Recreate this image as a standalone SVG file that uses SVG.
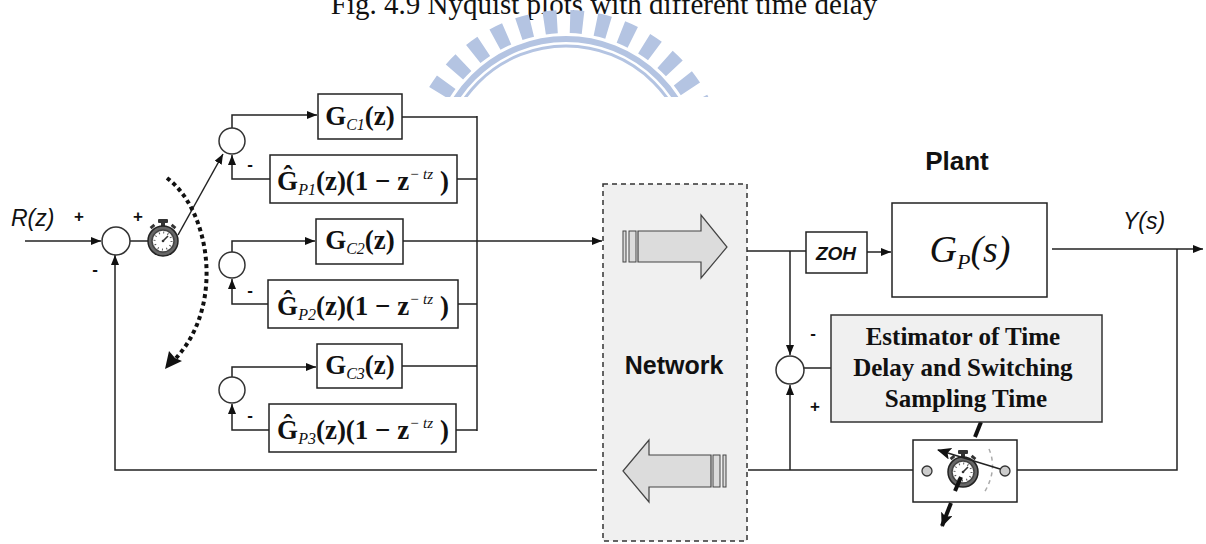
<svg xmlns="http://www.w3.org/2000/svg" width="1206" height="544" viewBox="0 0 1206 544">
  <style>
    .ln{stroke:#222;stroke-width:1.5;fill:none}
    .box{fill:#fff;stroke:#222;stroke-width:1.5}
    .sum{fill:#fff;stroke:#333;stroke-width:1.5}
    .sign{font-family:"Liberation Sans",Arial,sans-serif;font-weight:bold;font-size:17px;fill:#111}
    .sans{font-family:"Liberation Sans",Arial,sans-serif;fill:#111}
    .serif{font-family:"Liberation Serif","Times New Roman",serif;fill:#111}
    .blk{fill:#dcdcdc;stroke:#444;stroke-width:1.2}
    .bar{fill:#dcdcdc;stroke:#444;stroke-width:1}
    .b{font-weight:bold}
    .i{font-style:italic}
  </style>
  <defs>
    <marker id="ah" viewBox="0 0 10 8" refX="10" refY="4" markerWidth="10" markerHeight="8" markerUnits="userSpaceOnUse" orient="auto">
      <path d="M0,0 L10,4 L0,8 z" fill="#111"/>
    </marker>
    <marker id="ahb" viewBox="0 0 14 12" refX="13" refY="6" markerWidth="14" markerHeight="12" markerUnits="userSpaceOnUse" orient="auto">
      <path d="M0,0 L14,6 L0,12 L3,6 z" fill="#111"/>
    </marker>
    <clipPath id="wmclip"><rect x="0" y="0" width="1206" height="97"/></clipPath>
    <!-- stopwatch glyph, centred on the origin -->
    <g id="watch">
      <rect x="-5" y="-22" width="10" height="4" rx="1" fill="#333"/>
      <rect x="-2" y="-19" width="4" height="5" fill="#333"/>
      <rect x="-13" y="-16" width="5" height="3" fill="#333" transform="rotate(-40 -10.5 -14.5)"/>
      <rect x="8" y="-16" width="5" height="3" fill="#333" transform="rotate(40 10.5 -14.5)"/>
      <circle r="15" fill="#666" stroke="#222" stroke-width="1.5"/>
      <circle r="11" fill="#fff" stroke="#444" stroke-width="1.5"/>
      <circle r="8.5" fill="none" stroke="#555" stroke-width="2" stroke-dasharray="1 3.45"/>
      <line x1="0" y1="0" x2="5" y2="-5" stroke="#333" stroke-width="1.6"/>
      <circle r="1.3" fill="#333"/>
    </g>
  </defs>

  <rect width="1206" height="544" fill="#fff"/>

  <!-- caption above the figure -->
  <text x="604" y="14" text-anchor="middle" class="serif" font-size="29">Fig. 4.9 Nyquist plots with different time delay</text>

  <!-- emblem behind the figure -->
  <g id="emblem" clip-path="url(#wmclip)" fill="none" stroke="#b4c4e2">
    <circle cx="566" cy="170" r="148.5" stroke-width="23" stroke-dasharray="13 13.06"/>
    <circle cx="566" cy="170" r="131" stroke-width="6"/>
    <circle cx="566" cy="170" r="124" stroke-width="3"/>
  </g>

  <!-- connectors -->
  <g id="connectors">
    <path class="ln" d="M25,241 H101" marker-end="url(#ah)"/>
    <path class="ln" d="M130,241 H148"/>
    <path class="ln" d="M178,235 L223,154" marker-end="url(#ah)"/>
    <path class="ln" d="M232,128 V115 H317" marker-end="url(#ah)"/>
    <path class="ln" d="M270,179 H232 V155" marker-end="url(#ah)"/>
    <path class="ln" d="M232,252 V241 H315" marker-end="url(#ah)"/>
    <path class="ln" d="M268,304 H232 V279" marker-end="url(#ah)"/>
    <path class="ln" d="M232,377 V367 H316" marker-end="url(#ah)"/>
    <path class="ln" d="M269,430 H232 V404" marker-end="url(#ah)"/>
    <path class="ln" d="M402,117 H477 M457,179 H477 M458,304 H477 M402,366 H477 M456,430 H477 M477,116 V431"/>
    <path class="ln" d="M403,241 H602" marker-end="url(#ah)"/>
    <path class="ln" d="M747,251 H806"/>
    <path class="ln" d="M867,252 H891" marker-end="url(#ah)"/>
    <path class="ln" d="M1052,249 H1203" marker-end="url(#ah)"/>
    <path class="ln" d="M1177,249 V470 H1011"/>
    <path class="ln" d="M913,470 H748"/>
    <path class="ln" d="M597,470 H115 V255" marker-end="url(#ah)"/>
    <path class="ln" d="M790,251 V355" marker-end="url(#ah)"/>
    <path class="ln" d="M790,470 V385" marker-end="url(#ah)"/>
    <path class="ln" d="M804,368 H831"/>
    <!-- dotted swing indicator -->
    <path d="M167,178 C210,210 225,305 176,358" fill="none" stroke="#111" stroke-width="4" stroke-dasharray="4 3.5"/>
    <path d="M165,369 L169,351 L175,358 L182,361 z" fill="#111"/>
    <!-- estimator command to the switch -->
    <path d="M981,422 L975,437" stroke="#111" stroke-width="4" fill="none"/>
    <path d="M951,503 L942,526" stroke="#111" stroke-width="4" fill="none" marker-end="url(#ahb)"/>
  </g>

  <!-- input and first summing junction -->
  <g id="reference-input">
    <text x="11" y="226" class="sans i" font-size="23">R(z)</text>
    <text x="79" y="222" text-anchor="middle" class="sign">+</text>
  </g>
  <g id="sum-main">
    <circle cx="116" cy="241" r="14" class="sum"/>
    <text x="138" y="222" text-anchor="middle" class="sign">+</text>
    <text x="95" y="275" text-anchor="middle" class="sign">-</text>
  </g>
  <g id="timer-selector">
    <use href="#watch" x="163" y="241"/>
  </g>

  <!-- controller branch 1 -->
  <g id="branch1">
    <circle cx="232" cy="141" r="13" class="sum"/>
    <text x="250" y="170" text-anchor="middle" class="sign">-</text>
    <rect x="318" y="94" width="84" height="45" class="box"/>
    <text x="360" y="125" text-anchor="middle" class="serif" font-size="27"><tspan class="b">G</tspan><tspan class="i" font-size="16" dy="5">C1</tspan><tspan class="b" dy="-5">(z)</tspan></text>
    <rect x="270" y="155" width="187" height="48" class="box"/>
    <text x="363" y="190" text-anchor="middle" class="serif" font-size="27"><tspan class="b">Ĝ</tspan><tspan class="i" font-size="16" dy="5">P1</tspan><tspan class="b" dy="-5">(z)(1 − z</tspan><tspan class="i" font-size="15" dy="-11">− tz</tspan><tspan class="b" dy="11"> )</tspan></text>
  </g>

  <!-- controller branch 2 -->
  <g id="branch2">
    <circle cx="232" cy="265" r="13" class="sum"/>
    <text x="250" y="296" text-anchor="middle" class="sign">-</text>
    <rect x="316" y="219" width="87" height="45" class="box"/>
    <text x="360" y="249" text-anchor="middle" class="serif" font-size="27"><tspan class="b">G</tspan><tspan class="i" font-size="16" dy="5">C2</tspan><tspan class="b" dy="-5">(z)</tspan></text>
    <rect x="268" y="280" width="190" height="48" class="box"/>
    <text x="363" y="315" text-anchor="middle" class="serif" font-size="27"><tspan class="b">Ĝ</tspan><tspan class="i" font-size="16" dy="5">P2</tspan><tspan class="b" dy="-5">(z)(1 − z</tspan><tspan class="i" font-size="15" dy="-11">− tz</tspan><tspan class="b" dy="11"> )</tspan></text>
  </g>

  <!-- controller branch 3 -->
  <g id="branch3">
    <circle cx="232" cy="390" r="13" class="sum"/>
    <text x="250" y="421" text-anchor="middle" class="sign">-</text>
    <rect x="317" y="344" width="85" height="44" class="box"/>
    <text x="360" y="374" text-anchor="middle" class="serif" font-size="27"><tspan class="b">G</tspan><tspan class="i" font-size="16" dy="5">C3</tspan><tspan class="b" dy="-5">(z)</tspan></text>
    <rect x="269" y="404" width="187" height="48" class="box"/>
    <text x="363" y="439" text-anchor="middle" class="serif" font-size="27"><tspan class="b">Ĝ</tspan><tspan class="i" font-size="16" dy="5">P3</tspan><tspan class="b" dy="-5">(z)(1 − z</tspan><tspan class="i" font-size="15" dy="-11">− tz</tspan><tspan class="b" dy="11"> )</tspan></text>
  </g>

  <!-- communication network -->
  <g id="network">
    <rect x="603" y="184" width="144" height="357" fill="#f0f0f0" stroke="#333" stroke-width="1.5" stroke-dasharray="5 4"/>
    <rect x="623" y="231" width="3" height="31" class="bar"/>
    <rect x="629" y="231" width="7" height="31" class="bar"/>
    <path d="M638,231 H701 V215 L727,247 L701,278 V262 H638 Z" class="blk"/>
    <path d="M623,471 L649,440 V455 H711 V487 H649 V502 Z" class="blk"/>
    <rect x="713" y="455" width="7" height="32" class="bar"/>
    <rect x="723" y="455" width="3" height="32" class="bar"/>
    <text x="674" y="374" text-anchor="middle" class="sans b" font-size="25">Network</text>
  </g>

  <!-- plant side -->
  <g id="zoh">
    <rect x="806" y="232" width="61" height="41" class="box"/>
    <text x="836" y="260" text-anchor="middle" class="sans b i" font-size="19">ZOH</text>
  </g>
  <g id="plant">
    <text x="957" y="170" text-anchor="middle" class="sans b" font-size="26">Plant</text>
    <rect x="892" y="203" width="155" height="94" class="box"/>
    <text x="970" y="262" text-anchor="middle" class="serif i" font-size="38">G<tspan font-size="22" dy="7">P</tspan><tspan dy="-7">(s)</tspan></text>
  </g>
  <g id="output">
    <text x="1123" y="229" class="sans i" font-size="23">Y(s)</text>
  </g>

  <g id="sum-estimate">
    <circle cx="790" cy="370" r="14" class="sum"/>
    <text x="813" y="339" text-anchor="middle" class="sign">-</text>
    <text x="815" y="412" text-anchor="middle" class="sign">+</text>
  </g>

  <g id="estimator">
    <rect x="831" y="315" width="271" height="107" fill="#f0f0f0" stroke="#333" stroke-width="1.5"/>
    <text text-anchor="middle" class="serif b" font-size="25">
      <tspan x="966" y="345">Estimator of Time</tspan>
      <tspan x="966" y="376">Delay and Switching</tspan>
      <tspan x="966" y="407">Sampling Time</tspan>
    </text>
  </g>

  <!-- sampling-time switch -->
  <g id="switch">
    <rect x="913" y="440" width="104" height="62" class="box"/>
    <circle cx="927" cy="471" r="5" fill="#ccc" stroke="#333" stroke-width="1.3"/>
    <circle cx="1005" cy="471" r="5" fill="#ccc" stroke="#333" stroke-width="1.3"/>
    <path d="M989,449 Q998,470 984,493" fill="none" stroke="#aaa" stroke-width="1.5" stroke-dasharray="4 4"/>
    <use href="#watch" x="963" y="472"/>
    <path d="M1000,469 L938,450" stroke="#222" stroke-width="1.5" fill="none" marker-end="url(#ahb)"/>
    <path d="M961,477 L955,491" stroke="#111" stroke-width="4" fill="none"/>
  </g>
</svg>
